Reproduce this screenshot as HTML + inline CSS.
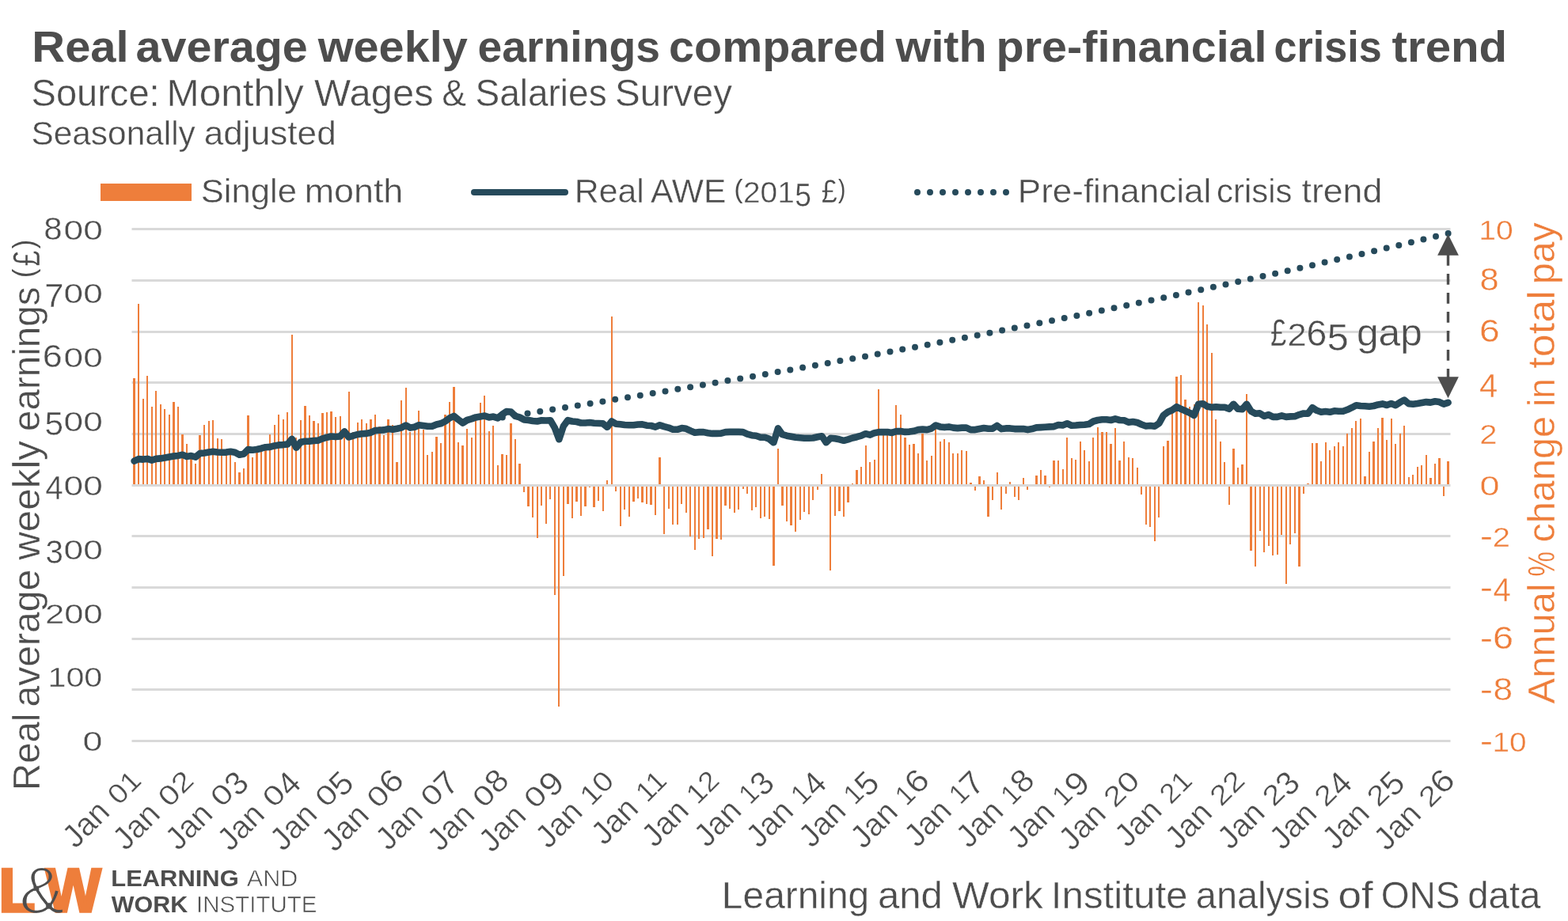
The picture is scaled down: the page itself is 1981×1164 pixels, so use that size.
<!DOCTYPE html>
<html lang="en"><head><meta charset="utf-8">
<title>Real average weekly earnings compared with pre-financial crisis trend</title>
<style>
html,body{margin:0;padding:0;background:#fff;}
body{width:1981px;height:1164px;overflow:hidden;}
svg{display:block;font-family:"Liberation Sans",Arial,Helvetica,sans-serif;}
text{white-space:pre;}
</style></head><body>
<svg width="1981" height="1164" viewBox="0 0 1981 1164">
<defs><filter id="thin" x="-10%" y="-10%" width="120%" height="120%"><feMorphology operator="erode" radius="1"/></filter></defs>
<rect width="1981" height="1164" fill="#fff"/>
<g id="headings">
<text fill="#4d4d4d" font-weight="bold"><tspan x="40.33" y="77.90" font-size="55.40" textLength="138.39" lengthAdjust="spacingAndGlyphs">Real </tspan><tspan x="171.58" y="77.90" font-size="55.40" textLength="233.05" lengthAdjust="spacingAndGlyphs">average </tspan><tspan x="401.74" y="77.90" font-size="55.40" textLength="205.09" lengthAdjust="spacingAndGlyphs">weekly </tspan><tspan x="603.52" y="77.90" font-size="55.40" textLength="245.86" lengthAdjust="spacingAndGlyphs">earnings </tspan><tspan x="845.13" y="77.90" font-size="55.40" textLength="290.57" lengthAdjust="spacingAndGlyphs">compared </tspan><tspan x="1131.64" y="77.90" font-size="55.40" textLength="131.05" lengthAdjust="spacingAndGlyphs">with </tspan><tspan x="1258.58" y="77.90" font-size="55.40" textLength="358.00" lengthAdjust="spacingAndGlyphs">pre-financial </tspan><tspan x="1609.44" y="77.90" font-size="55.40" textLength="150.71" lengthAdjust="spacingAndGlyphs">crisis </tspan><tspan x="1758.59" y="77.90" font-size="55.40" textLength="145.62" lengthAdjust="spacingAndGlyphs">trend</tspan></text>
<text fill="#4d4d4d" stroke="#fff" stroke-width="0.40"><tspan x="39.53" y="133.90" font-size="47.40" textLength="175.17" lengthAdjust="spacingAndGlyphs">Source: </tspan><tspan x="210.53" y="133.90" font-size="47.40" textLength="186.82" lengthAdjust="spacingAndGlyphs">Monthly </tspan><tspan x="397.13" y="133.90" font-size="47.40" textLength="164.07" lengthAdjust="spacingAndGlyphs">Wages </tspan><tspan x="558.19" y="133.90" font-size="47.40" textLength="43.55" lengthAdjust="spacingAndGlyphs">&amp; </tspan><tspan x="600.48" y="133.90" font-size="47.40" textLength="178.95" lengthAdjust="spacingAndGlyphs">Salaries </tspan><tspan x="777.11" y="133.90" font-size="47.40" textLength="147.76" lengthAdjust="spacingAndGlyphs">Survey</tspan></text>
<text fill="#4d4d4d" stroke="#fff" stroke-width="0.40"><tspan x="39.43" y="183.00" font-size="41.60" textLength="219.18" lengthAdjust="spacingAndGlyphs">Seasonally </tspan><tspan x="257.67" y="183.00" font-size="41.60" textLength="167.12" lengthAdjust="spacingAndGlyphs">adjusted</tspan></text>
</g>
<g id="legend">
<rect x="127" y="232" width="115" height="22" fill="#ee7e3b"/>
<line x1="599" y1="243" x2="714" y2="243" stroke="#264a5b" stroke-width="8" stroke-linecap="round"/>
<line x1="1159" y1="243" x2="1271.5" y2="243" stroke="#264a5b" stroke-width="8" stroke-linecap="round" stroke-dasharray="0 16"/>
<text fill="#4d4d4d" stroke="#fff" stroke-width="0.40"><tspan x="253.65" y="256.00" font-size="41.60" textLength="133.56" lengthAdjust="spacingAndGlyphs">Single </tspan><tspan x="384.70" y="256.00" font-size="41.60" textLength="124.63" lengthAdjust="spacingAndGlyphs">month</tspan></text>
<text fill="#4d4d4d" stroke="#fff" stroke-width="0.40"><tspan x="725.89" y="256.00" font-size="41.60" textLength="99.86" lengthAdjust="spacingAndGlyphs">Real </tspan><tspan x="822.01" y="256.00" font-size="41.60" textLength="107.36" lengthAdjust="spacingAndGlyphs">AWE </tspan><tspan x="927.52" y="249.98" font-size="33.99" textLength="10.97" lengthAdjust="spacingAndGlyphs" stroke="none">(</tspan><tspan x="938.95" y="256.00" font-size="36.05" textLength="64.86" lengthAdjust="spacingAndGlyphs">201</tspan><tspan x="1004.34" y="261.05" font-size="43.05" textLength="20.75" lengthAdjust="spacingAndGlyphs">5</tspan><tspan x="1027.78" y="256.00" font-size="41.60" textLength="30.12" lengthAdjust="spacingAndGlyphs"> £</tspan><tspan x="1059.03" y="249.98" font-size="33.99" textLength="9.34" lengthAdjust="spacingAndGlyphs" stroke="none">)</tspan></text>
<text fill="#4d4d4d" stroke="#fff" stroke-width="0.40"><tspan x="1285.79" y="256.00" font-size="41.60" textLength="256.78" lengthAdjust="spacingAndGlyphs">Pre-financial </tspan><tspan x="1537.01" y="256.00" font-size="41.60" textLength="107.02" lengthAdjust="spacingAndGlyphs">crisis </tspan><tspan x="1644.53" y="256.00" font-size="41.60" textLength="101.78" lengthAdjust="spacingAndGlyphs">trend</tspan></text>
</g>
<g id="grid" fill="#d9d9d9">
<rect x="166.5" y="288" width="1666" height="3"/>
<rect x="166.5" y="353" width="1666" height="3"/>
<rect x="166.5" y="418" width="1666" height="3"/>
<rect x="166.5" y="482" width="1666" height="3"/>
<rect x="166.5" y="547" width="1666" height="3"/>
<rect x="166.5" y="676" width="1666" height="3"/>
<rect x="166.5" y="741" width="1666" height="3"/>
<rect x="166.5" y="806" width="1666" height="3"/>
<rect x="166.5" y="870" width="1666" height="3"/>
<rect x="166.5" y="935" width="1666" height="3"/>
</g>
<g id="bars" fill="#ee7e3b" shape-rendering="crispEdges">
<rect x="168" y="478" width="3" height="135"/>
<rect x="174" y="384" width="2" height="229"/>
<rect x="180" y="504" width="2" height="109"/>
<rect x="185" y="475" width="2" height="138"/>
<rect x="191" y="514" width="2" height="99"/>
<rect x="196" y="494" width="2" height="119"/>
<rect x="202" y="511" width="2" height="102"/>
<rect x="207" y="517" width="2" height="96"/>
<rect x="213" y="524" width="2" height="89"/>
<rect x="218" y="508" width="3" height="105"/>
<rect x="224" y="514" width="2" height="99"/>
<rect x="229" y="549" width="3" height="64"/>
<rect x="235" y="561" width="2" height="52"/>
<rect x="240" y="577" width="3" height="36"/>
<rect x="246" y="586" width="2" height="27"/>
<rect x="251" y="550" width="3" height="63"/>
<rect x="257" y="537" width="2" height="76"/>
<rect x="263" y="532" width="2" height="81"/>
<rect x="268" y="531" width="2" height="82"/>
<rect x="274" y="554" width="2" height="59"/>
<rect x="279" y="555" width="2" height="58"/>
<rect x="285" y="573" width="2" height="40"/>
<rect x="290" y="572" width="2" height="41"/>
<rect x="296" y="584" width="2" height="29"/>
<rect x="301" y="597" width="3" height="16"/>
<rect x="307" y="592" width="2" height="21"/>
<rect x="312" y="525" width="3" height="88"/>
<rect x="318" y="578" width="2" height="35"/>
<rect x="323" y="569" width="3" height="44"/>
<rect x="329" y="568" width="2" height="45"/>
<rect x="334" y="566" width="3" height="47"/>
<rect x="340" y="549" width="2" height="64"/>
<rect x="346" y="537" width="2" height="76"/>
<rect x="351" y="524" width="2" height="89"/>
<rect x="357" y="530" width="2" height="83"/>
<rect x="362" y="521" width="2" height="92"/>
<rect x="368" y="423" width="2" height="190"/>
<rect x="373" y="553" width="2" height="60"/>
<rect x="379" y="531" width="2" height="82"/>
<rect x="384" y="513" width="3" height="100"/>
<rect x="390" y="525" width="2" height="88"/>
<rect x="395" y="532" width="3" height="81"/>
<rect x="401" y="535" width="2" height="78"/>
<rect x="406" y="522" width="3" height="91"/>
<rect x="412" y="521" width="2" height="92"/>
<rect x="417" y="520" width="3" height="93"/>
<rect x="423" y="527" width="2" height="86"/>
<rect x="429" y="526" width="2" height="87"/>
<rect x="434" y="546" width="2" height="67"/>
<rect x="440" y="495" width="2" height="118"/>
<rect x="445" y="546" width="2" height="67"/>
<rect x="451" y="534" width="2" height="79"/>
<rect x="456" y="530" width="2" height="83"/>
<rect x="462" y="535" width="2" height="78"/>
<rect x="467" y="530" width="3" height="83"/>
<rect x="473" y="524" width="2" height="89"/>
<rect x="478" y="539" width="3" height="74"/>
<rect x="484" y="550" width="2" height="63"/>
<rect x="489" y="530" width="3" height="83"/>
<rect x="495" y="537" width="2" height="76"/>
<rect x="500" y="584" width="3" height="29"/>
<rect x="506" y="506" width="2" height="107"/>
<rect x="512" y="490" width="2" height="123"/>
<rect x="517" y="546" width="2" height="67"/>
<rect x="523" y="541" width="2" height="72"/>
<rect x="528" y="519" width="2" height="94"/>
<rect x="534" y="543" width="2" height="70"/>
<rect x="539" y="575" width="2" height="38"/>
<rect x="545" y="571" width="2" height="42"/>
<rect x="550" y="552" width="3" height="61"/>
<rect x="556" y="560" width="2" height="53"/>
<rect x="561" y="524" width="3" height="89"/>
<rect x="567" y="508" width="2" height="105"/>
<rect x="572" y="489" width="3" height="124"/>
<rect x="578" y="559" width="2" height="54"/>
<rect x="583" y="563" width="3" height="50"/>
<rect x="589" y="542" width="2" height="71"/>
<rect x="595" y="553" width="2" height="60"/>
<rect x="600" y="528" width="2" height="85"/>
<rect x="606" y="509" width="2" height="104"/>
<rect x="611" y="500" width="2" height="113"/>
<rect x="617" y="545" width="2" height="68"/>
<rect x="622" y="538" width="2" height="75"/>
<rect x="628" y="588" width="2" height="25"/>
<rect x="633" y="574" width="3" height="39"/>
<rect x="639" y="575" width="2" height="38"/>
<rect x="644" y="535" width="3" height="78"/>
<rect x="650" y="555" width="2" height="58"/>
<rect x="655" y="586" width="3" height="27"/>
<rect x="661" y="613" width="2" height="9"/>
<rect x="666" y="613" width="3" height="27"/>
<rect x="672" y="613" width="2" height="41"/>
<rect x="678" y="613" width="2" height="67"/>
<rect x="683" y="613" width="2" height="26"/>
<rect x="689" y="613" width="2" height="49"/>
<rect x="694" y="613" width="2" height="18"/>
<rect x="700" y="613" width="2" height="139"/>
<rect x="705" y="613" width="2" height="280"/>
<rect x="711" y="613" width="2" height="115"/>
<rect x="716" y="613" width="3" height="24"/>
<rect x="722" y="613" width="2" height="42"/>
<rect x="727" y="613" width="3" height="21"/>
<rect x="733" y="613" width="2" height="39"/>
<rect x="738" y="613" width="3" height="27"/>
<rect x="744" y="613" width="2" height="3"/>
<rect x="749" y="613" width="3" height="28"/>
<rect x="755" y="613" width="2" height="20"/>
<rect x="761" y="613" width="2" height="33"/>
<rect x="766" y="607" width="2" height="6"/>
<rect x="772" y="400" width="2" height="213"/>
<rect x="777" y="613" width="2" height="8"/>
<rect x="783" y="613" width="2" height="52"/>
<rect x="788" y="613" width="2" height="31"/>
<rect x="794" y="613" width="2" height="40"/>
<rect x="799" y="613" width="3" height="21"/>
<rect x="805" y="613" width="2" height="17"/>
<rect x="810" y="613" width="3" height="22"/>
<rect x="816" y="613" width="2" height="24"/>
<rect x="821" y="613" width="3" height="25"/>
<rect x="827" y="613" width="2" height="38"/>
<rect x="832" y="578" width="3" height="35"/>
<rect x="838" y="613" width="2" height="62"/>
<rect x="844" y="613" width="2" height="30"/>
<rect x="849" y="613" width="2" height="50"/>
<rect x="855" y="613" width="2" height="50"/>
<rect x="860" y="613" width="2" height="24"/>
<rect x="866" y="613" width="2" height="35"/>
<rect x="871" y="613" width="2" height="65"/>
<rect x="877" y="613" width="2" height="82"/>
<rect x="882" y="613" width="2" height="68"/>
<rect x="888" y="613" width="2" height="67"/>
<rect x="893" y="613" width="3" height="56"/>
<rect x="899" y="613" width="2" height="90"/>
<rect x="904" y="613" width="3" height="68"/>
<rect x="910" y="613" width="2" height="69"/>
<rect x="915" y="613" width="3" height="26"/>
<rect x="921" y="613" width="2" height="30"/>
<rect x="927" y="613" width="2" height="35"/>
<rect x="932" y="613" width="2" height="31"/>
<rect x="938" y="613" width="2" height="5"/>
<rect x="943" y="613" width="2" height="11"/>
<rect x="949" y="613" width="2" height="32"/>
<rect x="954" y="613" width="2" height="28"/>
<rect x="960" y="613" width="2" height="42"/>
<rect x="965" y="613" width="2" height="40"/>
<rect x="971" y="613" width="2" height="43"/>
<rect x="976" y="613" width="3" height="102"/>
<rect x="982" y="567" width="2" height="46"/>
<rect x="987" y="613" width="3" height="26"/>
<rect x="993" y="613" width="2" height="46"/>
<rect x="998" y="613" width="3" height="51"/>
<rect x="1004" y="613" width="2" height="59"/>
<rect x="1010" y="613" width="2" height="44"/>
<rect x="1015" y="613" width="2" height="34"/>
<rect x="1021" y="613" width="2" height="37"/>
<rect x="1026" y="613" width="2" height="19"/>
<rect x="1032" y="613" width="2" height="6"/>
<rect x="1037" y="599" width="2" height="14"/>
<rect x="1048" y="613" width="2" height="108"/>
<rect x="1054" y="613" width="2" height="39"/>
<rect x="1059" y="613" width="3" height="33"/>
<rect x="1065" y="613" width="2" height="40"/>
<rect x="1070" y="613" width="3" height="22"/>
<rect x="1076" y="611" width="2" height="2"/>
<rect x="1081" y="594" width="3" height="19"/>
<rect x="1087" y="590" width="2" height="23"/>
<rect x="1093" y="563" width="2" height="50"/>
<rect x="1098" y="584" width="2" height="29"/>
<rect x="1104" y="581" width="2" height="32"/>
<rect x="1109" y="492" width="2" height="121"/>
<rect x="1115" y="547" width="2" height="66"/>
<rect x="1120" y="547" width="2" height="66"/>
<rect x="1126" y="548" width="2" height="65"/>
<rect x="1131" y="512" width="2" height="101"/>
<rect x="1137" y="524" width="2" height="89"/>
<rect x="1142" y="553" width="3" height="60"/>
<rect x="1148" y="562" width="2" height="51"/>
<rect x="1153" y="561" width="3" height="52"/>
<rect x="1159" y="573" width="2" height="40"/>
<rect x="1164" y="548" width="3" height="65"/>
<rect x="1170" y="582" width="2" height="31"/>
<rect x="1176" y="576" width="2" height="37"/>
<rect x="1181" y="539" width="2" height="74"/>
<rect x="1187" y="558" width="2" height="55"/>
<rect x="1192" y="555" width="2" height="58"/>
<rect x="1198" y="559" width="2" height="54"/>
<rect x="1203" y="573" width="2" height="40"/>
<rect x="1209" y="573" width="2" height="40"/>
<rect x="1214" y="569" width="2" height="44"/>
<rect x="1220" y="570" width="2" height="43"/>
<rect x="1225" y="610" width="3" height="3"/>
<rect x="1231" y="613" width="2" height="7"/>
<rect x="1236" y="602" width="3" height="11"/>
<rect x="1242" y="607" width="2" height="6"/>
<rect x="1247" y="613" width="3" height="40"/>
<rect x="1253" y="613" width="2" height="19"/>
<rect x="1259" y="597" width="2" height="16"/>
<rect x="1264" y="613" width="2" height="31"/>
<rect x="1270" y="613" width="2" height="11"/>
<rect x="1275" y="609" width="2" height="4"/>
<rect x="1281" y="613" width="2" height="15"/>
<rect x="1286" y="613" width="2" height="19"/>
<rect x="1292" y="604" width="2" height="9"/>
<rect x="1297" y="613" width="2" height="6"/>
<rect x="1308" y="601" width="3" height="12"/>
<rect x="1314" y="594" width="2" height="19"/>
<rect x="1319" y="601" width="3" height="12"/>
<rect x="1325" y="613" width="2" height="3"/>
<rect x="1330" y="582" width="3" height="31"/>
<rect x="1336" y="582" width="2" height="31"/>
<rect x="1342" y="593" width="2" height="20"/>
<rect x="1347" y="553" width="2" height="60"/>
<rect x="1353" y="579" width="2" height="34"/>
<rect x="1358" y="581" width="2" height="32"/>
<rect x="1364" y="558" width="2" height="55"/>
<rect x="1369" y="569" width="2" height="44"/>
<rect x="1375" y="583" width="2" height="30"/>
<rect x="1380" y="553" width="2" height="60"/>
<rect x="1386" y="540" width="2" height="73"/>
<rect x="1391" y="546" width="3" height="67"/>
<rect x="1397" y="546" width="2" height="67"/>
<rect x="1402" y="561" width="3" height="52"/>
<rect x="1408" y="541" width="2" height="72"/>
<rect x="1413" y="582" width="3" height="31"/>
<rect x="1419" y="558" width="2" height="55"/>
<rect x="1425" y="578" width="2" height="35"/>
<rect x="1430" y="579" width="2" height="34"/>
<rect x="1436" y="591" width="2" height="22"/>
<rect x="1441" y="613" width="2" height="12"/>
<rect x="1447" y="613" width="2" height="50"/>
<rect x="1452" y="613" width="2" height="53"/>
<rect x="1458" y="613" width="2" height="71"/>
<rect x="1463" y="613" width="2" height="41"/>
<rect x="1469" y="564" width="2" height="49"/>
<rect x="1474" y="557" width="3" height="56"/>
<rect x="1480" y="519" width="2" height="94"/>
<rect x="1485" y="476" width="3" height="137"/>
<rect x="1491" y="474" width="2" height="139"/>
<rect x="1496" y="505" width="3" height="108"/>
<rect x="1502" y="514" width="2" height="99"/>
<rect x="1508" y="511" width="2" height="102"/>
<rect x="1513" y="382" width="2" height="231"/>
<rect x="1519" y="386" width="2" height="227"/>
<rect x="1524" y="410" width="2" height="203"/>
<rect x="1530" y="446" width="2" height="167"/>
<rect x="1535" y="530" width="2" height="83"/>
<rect x="1541" y="558" width="2" height="55"/>
<rect x="1546" y="584" width="2" height="29"/>
<rect x="1552" y="613" width="2" height="25"/>
<rect x="1557" y="567" width="3" height="46"/>
<rect x="1563" y="591" width="2" height="22"/>
<rect x="1568" y="587" width="3" height="26"/>
<rect x="1574" y="498" width="2" height="115"/>
<rect x="1579" y="613" width="3" height="83"/>
<rect x="1585" y="613" width="2" height="103"/>
<rect x="1591" y="613" width="2" height="58"/>
<rect x="1596" y="613" width="2" height="85"/>
<rect x="1602" y="613" width="2" height="77"/>
<rect x="1607" y="613" width="2" height="89"/>
<rect x="1613" y="613" width="2" height="88"/>
<rect x="1618" y="613" width="2" height="63"/>
<rect x="1624" y="613" width="2" height="125"/>
<rect x="1629" y="613" width="2" height="75"/>
<rect x="1635" y="613" width="2" height="61"/>
<rect x="1640" y="613" width="3" height="103"/>
<rect x="1646" y="613" width="2" height="11"/>
<rect x="1651" y="611" width="3" height="2"/>
<rect x="1657" y="560" width="2" height="53"/>
<rect x="1662" y="560" width="3" height="53"/>
<rect x="1668" y="583" width="2" height="30"/>
<rect x="1674" y="559" width="2" height="54"/>
<rect x="1679" y="569" width="2" height="44"/>
<rect x="1685" y="564" width="2" height="49"/>
<rect x="1690" y="559" width="2" height="54"/>
<rect x="1696" y="564" width="2" height="49"/>
<rect x="1701" y="548" width="2" height="65"/>
<rect x="1707" y="541" width="2" height="72"/>
<rect x="1712" y="532" width="2" height="81"/>
<rect x="1718" y="529" width="2" height="84"/>
<rect x="1723" y="602" width="3" height="11"/>
<rect x="1729" y="571" width="2" height="42"/>
<rect x="1734" y="558" width="3" height="55"/>
<rect x="1740" y="541" width="2" height="72"/>
<rect x="1745" y="528" width="3" height="85"/>
<rect x="1751" y="556" width="2" height="57"/>
<rect x="1757" y="529" width="2" height="84"/>
<rect x="1762" y="561" width="2" height="52"/>
<rect x="1768" y="548" width="2" height="65"/>
<rect x="1773" y="538" width="2" height="75"/>
<rect x="1779" y="603" width="2" height="10"/>
<rect x="1784" y="600" width="2" height="13"/>
<rect x="1790" y="590" width="2" height="23"/>
<rect x="1795" y="588" width="2" height="25"/>
<rect x="1801" y="575" width="2" height="38"/>
<rect x="1806" y="604" width="3" height="9"/>
<rect x="1812" y="586" width="2" height="27"/>
<rect x="1817" y="579" width="3" height="34"/>
<rect x="1823" y="613" width="2" height="14"/>
<rect x="1828" y="583" width="3" height="30"/>
</g>
<rect id="zero" x="166.5" y="612" width="1666" height="3" fill="#d9d9d9"/>
<g id="trend" fill="#264a5b">
<circle cx="634.8" cy="527.4" r="4"/><circle cx="650.6" cy="524.9" r="4"/><circle cx="666.5" cy="522.5" r="4"/><circle cx="682.3" cy="520.0" r="4"/><circle cx="698.1" cy="517.5" r="4"/><circle cx="714.0" cy="515.0" r="4"/><circle cx="729.8" cy="512.5" r="4"/><circle cx="745.6" cy="509.9" r="4"/><circle cx="761.4" cy="507.4" r="4"/><circle cx="777.2" cy="504.8" r="4"/><circle cx="793.0" cy="502.3" r="4"/><circle cx="808.8" cy="499.7" r="4"/><circle cx="824.7" cy="497.1" r="4"/><circle cx="840.5" cy="494.4" r="4"/><circle cx="856.3" cy="491.8" r="4"/><circle cx="872.1" cy="489.2" r="4"/><circle cx="887.9" cy="486.5" r="4"/><circle cx="903.6" cy="483.8" r="4"/><circle cx="919.4" cy="481.1" r="4"/><circle cx="935.2" cy="478.4" r="4"/><circle cx="951.0" cy="475.7" r="4"/><circle cx="966.8" cy="472.9" r="4"/><circle cx="982.6" cy="470.1" r="4"/><circle cx="998.3" cy="467.4" r="4"/><circle cx="1014.1" cy="464.6" r="4"/><circle cx="1029.9" cy="461.8" r="4"/><circle cx="1045.7" cy="458.9" r="4"/><circle cx="1061.4" cy="456.1" r="4"/><circle cx="1077.2" cy="453.2" r="4"/><circle cx="1093.0" cy="450.4" r="4"/><circle cx="1108.7" cy="447.5" r="4"/><circle cx="1124.5" cy="444.6" r="4"/><circle cx="1140.2" cy="441.6" r="4"/><circle cx="1156.0" cy="438.7" r="4"/><circle cx="1171.7" cy="435.7" r="4"/><circle cx="1187.4" cy="432.8" r="4"/><circle cx="1203.2" cy="429.8" r="4"/><circle cx="1218.9" cy="426.8" r="4"/><circle cx="1234.7" cy="423.7" r="4"/><circle cx="1250.4" cy="420.7" r="4"/><circle cx="1266.1" cy="417.6" r="4"/><circle cx="1281.8" cy="414.5" r="4"/><circle cx="1297.5" cy="411.4" r="4"/><circle cx="1313.3" cy="408.3" r="4"/><circle cx="1329.0" cy="405.2" r="4"/><circle cx="1344.7" cy="402.1" r="4"/><circle cx="1360.4" cy="398.9" r="4"/><circle cx="1376.1" cy="395.7" r="4"/><circle cx="1391.8" cy="392.5" r="4"/><circle cx="1407.5" cy="389.3" r="4"/><circle cx="1423.2" cy="386.0" r="4"/><circle cx="1438.8" cy="382.8" r="4"/><circle cx="1454.5" cy="379.5" r="4"/><circle cx="1470.2" cy="376.2" r="4"/><circle cx="1485.9" cy="372.9" r="4"/><circle cx="1501.5" cy="369.5" r="4"/><circle cx="1517.2" cy="366.2" r="4"/><circle cx="1532.9" cy="362.8" r="4"/><circle cx="1548.5" cy="359.4" r="4"/><circle cx="1564.2" cy="356.0" r="4"/><circle cx="1579.8" cy="352.6" r="4"/><circle cx="1595.5" cy="349.1" r="4"/><circle cx="1611.1" cy="345.7" r="4"/><circle cx="1626.7" cy="342.2" r="4"/><circle cx="1642.4" cy="338.7" r="4"/><circle cx="1658.0" cy="335.2" r="4"/><circle cx="1673.6" cy="331.6" r="4"/><circle cx="1689.2" cy="328.0" r="4"/><circle cx="1704.9" cy="324.5" r="4"/><circle cx="1720.5" cy="320.9" r="4"/><circle cx="1736.1" cy="317.2" r="4"/><circle cx="1751.7" cy="313.6" r="4"/><circle cx="1767.3" cy="309.9" r="4"/><circle cx="1782.9" cy="306.2" r="4"/><circle cx="1798.4" cy="302.5" r="4"/><circle cx="1814.0" cy="298.8" r="4"/><circle cx="1829.6" cy="295.0" r="4"/>
</g>
<polyline id="awe" points="169.6,582.6 175.1,580.1 180.7,580.6 186.2,579.9 191.7,581.6 197.3,579.9 202.8,579.4 208.3,578.6 213.9,577.6 219.4,576.6 224.9,575.9 230.5,574.8 236.0,576.9 241.5,576.1 247.1,577.6 252.6,573.0 258.1,572.5 263.7,571.5 269.2,570.8 274.7,571.5 280.3,571.7 285.8,571.6 291.3,570.8 296.9,571.8 302.4,574.8 307.9,573.8 313.5,568.0 319.0,568.7 324.5,568.0 330.1,566.7 335.6,565.2 341.1,564.9 346.7,563.4 352.2,562.4 357.7,562.1 363.3,561.4 368.8,554.8 374.3,565.7 379.9,558.8 385.4,557.8 390.9,557.6 396.5,557.0 402.0,556.6 407.5,554.3 413.1,552.7 418.6,551.5 424.1,552.0 429.7,551.5 435.2,545.4 440.7,552.5 446.3,550.7 451.8,549.0 457.3,548.2 462.9,547.9 468.4,546.7 473.9,544.1 479.5,543.8 485.0,543.4 490.5,542.1 496.1,542.8 501.6,541.8 507.1,540.6 512.7,537.5 518.2,540.6 523.7,539.8 529.3,537.3 534.8,538.0 540.3,538.8 545.9,538.8 551.4,536.5 556.9,535.3 562.5,532.5 568.0,528.4 573.5,525.9 579.1,530.4 584.6,534.5 590.1,531.0 595.7,529.4 601.2,527.4 606.7,526.4 612.3,525.6 617.8,527.4 623.3,526.6 628.9,528.4 634.4,523.9 639.9,520.1 645.5,520.5 651.0,525.9 656.5,527.4 662.1,530.4 667.6,531.0 673.1,532.0 678.7,532.5 684.2,531.2 689.7,531.5 695.3,531.2 700.8,540.6 706.3,555.3 711.9,538.5 717.4,531.2 722.9,532.5 728.5,533.0 734.0,534.5 739.5,534.5 745.1,534.0 750.6,534.7 756.1,535.0 761.7,535.3 767.2,539.8 772.7,532.5 778.3,535.7 783.8,536.3 789.3,537.0 794.9,537.3 800.4,537.3 805.9,536.5 811.5,536.3 817.0,537.7 822.5,538.0 828.1,539.6 833.6,537.3 839.1,539.1 844.7,540.6 850.2,542.8 855.7,542.8 861.3,541.1 866.8,541.8 872.3,544.4 877.8,546.7 883.4,546.1 888.9,546.1 894.4,547.2 900.0,547.9 905.5,547.9 911.0,547.7 916.6,546.1 922.1,545.9 927.6,545.9 933.2,545.9 938.7,546.1 944.2,548.7 949.8,550.2 955.3,550.7 960.8,552.7 966.4,552.7 971.9,554.8 977.4,559.3 983.0,541.4 988.5,549.2 994.0,550.7 999.6,551.7 1005.1,552.7 1010.6,553.2 1016.2,553.8 1021.7,553.8 1027.2,553.5 1032.8,552.2 1038.3,551.2 1043.8,559.3 1049.4,553.8 1054.9,554.3 1060.4,555.3 1066.0,556.8 1071.5,555.3 1077.0,553.5 1082.6,552.2 1088.1,550.7 1093.6,548.2 1099.2,549.7 1104.7,547.2 1110.2,546.1 1115.8,546.1 1121.3,546.1 1126.8,546.9 1132.4,545.1 1137.9,545.1 1143.4,545.9 1149.0,545.6 1154.5,544.8 1160.0,543.1 1165.6,542.6 1171.1,543.1 1176.6,541.6 1182.2,537.5 1187.7,539.4 1193.2,540.1 1198.8,539.4 1204.3,540.6 1209.8,541.1 1215.4,540.6 1220.9,540.6 1226.4,543.1 1232.0,543.1 1237.5,542.1 1243.0,541.1 1248.6,541.8 1254.1,541.6 1259.6,538.0 1265.2,542.1 1270.7,541.4 1276.2,541.4 1281.8,542.1 1287.3,542.1 1292.8,542.1 1298.4,543.1 1303.9,542.1 1309.4,540.4 1315.0,540.1 1320.5,539.8 1326.0,539.4 1331.6,539.1 1337.1,537.0 1342.6,537.5 1348.2,535.3 1353.7,537.7 1359.2,537.5 1364.8,537.0 1370.3,536.8 1375.8,536.0 1381.4,532.5 1386.9,531.0 1392.4,530.2 1398.0,530.2 1403.5,531.0 1409.0,529.4 1414.6,531.0 1420.1,531.2 1425.6,533.7 1431.2,533.0 1436.7,534.0 1442.2,536.5 1447.8,538.5 1453.3,538.0 1458.8,538.8 1464.4,535.0 1469.9,524.9 1475.4,520.8 1481.0,518.3 1486.5,514.2 1492.0,516.8 1497.6,519.3 1503.1,521.8 1508.6,524.9 1514.2,510.7 1519.7,510.2 1525.2,513.7 1530.8,514.7 1536.3,514.2 1541.8,514.7 1547.4,514.7 1552.9,516.8 1558.4,510.7 1564.0,516.8 1569.5,517.3 1575.0,510.7 1580.6,519.8 1586.1,522.8 1591.6,522.3 1597.2,525.9 1602.7,524.1 1608.2,526.9 1613.8,526.9 1619.3,525.4 1624.8,526.9 1630.4,526.4 1635.9,526.2 1641.4,524.1 1647.0,522.5 1652.5,522.8 1658.0,515.2 1663.6,518.8 1669.1,520.8 1674.6,520.1 1680.2,520.8 1685.7,519.3 1691.2,519.8 1696.8,519.8 1702.3,517.8 1707.8,515.2 1713.4,512.2 1718.9,513.0 1724.4,513.2 1730.0,513.7 1735.5,513.0 1741.0,511.4 1746.6,510.4 1752.1,512.0 1757.6,510.0 1763.2,512.2 1768.7,508.6 1774.2,505.6 1779.8,510.2 1785.3,510.7 1790.8,510.0 1796.4,509.1 1801.9,508.1 1807.4,508.6 1813.0,507.3 1818.5,508.1 1824.0,510.7 1829.6,508.9" fill="none" stroke="#264a5b" stroke-width="8.6" stroke-linejoin="round" stroke-linecap="round"/>
<g id="gap">
<line x1="1829.5" y1="322" x2="1829.5" y2="477" stroke="#4d4d4d" stroke-width="3.4" stroke-dasharray="13.7 10.3"/>
<polygon points="1829.5,296 1816.1,322.7 1842.9,322.7" fill="#4d4d4d"/>
<polygon points="1829.5,503.2 1816.1,476.3 1842.9,476.3" fill="#4d4d4d"/>
<text fill="#4d4d4d" stroke="#fff" stroke-width="0.40"><tspan x="1605.06" y="437.00" font-size="47.40" textLength="20.28" lengthAdjust="spacingAndGlyphs">£</tspan><tspan x="1626.58" y="437.00" font-size="40.25" textLength="24.20" lengthAdjust="spacingAndGlyphs">2</tspan><tspan x="1650.41" y="437.00" font-size="46.46" textLength="25.84" lengthAdjust="spacingAndGlyphs">6</tspan><tspan x="1676.63" y="442.63" font-size="48.07" textLength="27.08" lengthAdjust="spacingAndGlyphs">5</tspan><tspan x="1700.16" y="437.00" font-size="47.40" textLength="96.61" lengthAdjust="spacingAndGlyphs"> gap</tspan></text>
</g>
<g id="yleft">
<text fill="#4d4d4d" stroke="#fff" stroke-width="0.40" transform="rotate(-90)"><tspan x="-999.09" y="49.80" font-size="47.40" textLength="110.65" lengthAdjust="spacingAndGlyphs">Real </tspan><tspan x="-893.52" y="49.80" font-size="47.40" textLength="187.27" lengthAdjust="spacingAndGlyphs">average </tspan><tspan x="-707.88" y="49.80" font-size="47.40" textLength="164.64" lengthAdjust="spacingAndGlyphs">weekly </tspan><tspan x="-544.94" y="49.80" font-size="47.40" textLength="195.57" lengthAdjust="spacingAndGlyphs">earnings </tspan><tspan x="-350.97" y="43.08" font-size="37.95" textLength="11.33" lengthAdjust="spacingAndGlyphs" stroke="none">(</tspan><tspan x="-336.62" y="49.80" font-size="47.40" textLength="19.84" lengthAdjust="spacingAndGlyphs">£</tspan><tspan x="-314.33" y="43.08" font-size="37.95" textLength="11.27" lengthAdjust="spacingAndGlyphs" stroke="none">)</tspan></text>
<text fill="#4d4d4d" stroke="#fff" stroke-width="0.40"><tspan x="55.33" y="302.50" font-size="40.40" textLength="23.40" lengthAdjust="spacingAndGlyphs">8</tspan><tspan x="80.54" y="302.50" font-size="35.00" textLength="49.21" lengthAdjust="spacingAndGlyphs">00</tspan></text>
<text fill="#4d4d4d" stroke="#fff" stroke-width="0.40"><tspan x="56.15" y="388.25" font-size="41.80" textLength="24.25" lengthAdjust="spacingAndGlyphs">7</tspan><tspan x="80.54" y="383.35" font-size="35.00" textLength="49.21" lengthAdjust="spacingAndGlyphs">00</tspan></text>
<text fill="#4d4d4d" stroke="#fff" stroke-width="0.40"><tspan x="53.89" y="464.20" font-size="40.40" textLength="24.96" lengthAdjust="spacingAndGlyphs">6</tspan><tspan x="80.54" y="464.20" font-size="35.00" textLength="49.21" lengthAdjust="spacingAndGlyphs">00</tspan></text>
<text fill="#4d4d4d" stroke="#fff" stroke-width="0.40"><tspan x="56.51" y="549.95" font-size="41.80" textLength="23.58" lengthAdjust="spacingAndGlyphs">5</tspan><tspan x="80.54" y="545.05" font-size="35.00" textLength="49.21" lengthAdjust="spacingAndGlyphs">00</tspan></text>
<text fill="#4d4d4d" stroke="#fff" stroke-width="0.40"><tspan x="57.18" y="630.80" font-size="41.80" textLength="22.52" lengthAdjust="spacingAndGlyphs">4</tspan><tspan x="80.54" y="625.90" font-size="35.00" textLength="49.21" lengthAdjust="spacingAndGlyphs">00</tspan></text>
<text fill="#4d4d4d" stroke="#fff" stroke-width="0.40"><tspan x="57.62" y="711.65" font-size="41.80" textLength="22.40" lengthAdjust="spacingAndGlyphs">3</tspan><tspan x="80.54" y="706.75" font-size="35.00" textLength="49.21" lengthAdjust="spacingAndGlyphs">00</tspan></text>
<text fill="#4d4d4d" stroke="#fff" stroke-width="0.40"><tspan x="57.08" y="787.60" font-size="35.00" textLength="72.80" lengthAdjust="spacingAndGlyphs">200</tspan></text>
<text fill="#4d4d4d" stroke="#fff" stroke-width="0.40"><tspan x="60.43" y="868.45" font-size="35.00" textLength="68.88" lengthAdjust="spacingAndGlyphs">100</tspan></text>
<text fill="#4d4d4d" stroke="#fff" stroke-width="0.40"><tspan x="104.41" y="949.30" font-size="35.00" textLength="25.00" lengthAdjust="spacingAndGlyphs">0</tspan></text>
</g>
<g id="yright">
<text fill="#ee7e3b" stroke="#fff" stroke-width="0.40" transform="rotate(-90)"><tspan x="-889.42" y="1964.00" font-size="47.40" textLength="165.63" lengthAdjust="spacingAndGlyphs">Annual </tspan><tspan x="-728.81" y="1964.00" font-size="47.40" textLength="41.88" lengthAdjust="spacingAndGlyphs">% </tspan><tspan x="-685.60" y="1964.00" font-size="47.40" textLength="173.32" lengthAdjust="spacingAndGlyphs">change </tspan><tspan x="-514.10" y="1964.00" font-size="47.40" textLength="48.64" lengthAdjust="spacingAndGlyphs">in </tspan><tspan x="-465.69" y="1964.00" font-size="47.40" textLength="113.16" lengthAdjust="spacingAndGlyphs">total </tspan><tspan x="-359.16" y="1964.00" font-size="47.40" textLength="78.03" lengthAdjust="spacingAndGlyphs">pay</tspan></text>
<text fill="#ee7e3b" stroke="#fff" stroke-width="0.40"><tspan x="1868.22" y="302.60" font-size="35.00" textLength="43.53" lengthAdjust="spacingAndGlyphs">10</tspan></text>
<text fill="#ee7e3b" stroke="#fff" stroke-width="0.40"><tspan x="1869.55" y="367.30" font-size="40.40" textLength="24.23" lengthAdjust="spacingAndGlyphs">8</tspan></text>
<text fill="#ee7e3b" stroke="#fff" stroke-width="0.40"><tspan x="1869.13" y="432.00" font-size="40.40" textLength="25.69" lengthAdjust="spacingAndGlyphs">6</tspan></text>
<text fill="#ee7e3b" stroke="#fff" stroke-width="0.40"><tspan x="1869.05" y="501.60" font-size="41.80" textLength="23.25" lengthAdjust="spacingAndGlyphs">4</tspan></text>
<text fill="#ee7e3b" stroke="#fff" stroke-width="0.40"><tspan x="1869.18" y="561.40" font-size="35.00" textLength="22.25" lengthAdjust="spacingAndGlyphs">2</tspan></text>
<text fill="#ee7e3b" stroke="#fff" stroke-width="0.40"><tspan x="1869.40" y="626.10" font-size="35.00" textLength="25.12" lengthAdjust="spacingAndGlyphs">0</tspan></text>
<text fill="#ee7e3b" stroke="#fff" stroke-width="0.40"><tspan x="1869.79" y="690.80" font-size="40.50" textLength="16.42" lengthAdjust="spacingAndGlyphs">-</tspan><tspan x="1885.88" y="690.80" font-size="35.00" textLength="22.25" lengthAdjust="spacingAndGlyphs">2</tspan></text>
<text fill="#ee7e3b" stroke="#fff" stroke-width="0.40"><tspan x="1869.79" y="755.50" font-size="40.50" textLength="16.42" lengthAdjust="spacingAndGlyphs">-</tspan><tspan x="1886.58" y="760.40" font-size="41.80" textLength="22.41" lengthAdjust="spacingAndGlyphs">4</tspan></text>
<text fill="#ee7e3b" stroke="#fff" stroke-width="0.40"><tspan x="1869.79" y="820.20" font-size="40.50" textLength="16.42" lengthAdjust="spacingAndGlyphs">-</tspan><tspan x="1886.00" y="820.20" font-size="40.40" textLength="26.05" lengthAdjust="spacingAndGlyphs">6</tspan></text>
<text fill="#ee7e3b" stroke="#fff" stroke-width="0.40"><tspan x="1869.79" y="884.90" font-size="40.50" textLength="16.42" lengthAdjust="spacingAndGlyphs">-</tspan><tspan x="1886.43" y="884.90" font-size="40.40" textLength="24.59" lengthAdjust="spacingAndGlyphs">8</tspan></text>
<text fill="#ee7e3b" stroke="#fff" stroke-width="0.40"><tspan x="1869.79" y="949.60" font-size="40.50" textLength="16.42" lengthAdjust="spacingAndGlyphs">-</tspan><tspan x="1885.45" y="949.60" font-size="35.00" textLength="43.08" lengthAdjust="spacingAndGlyphs">10</tspan></text>
</g>
<g id="xaxis">
<text fill="#4d4d4d" stroke="#fff" stroke-width="0.40" transform="translate(179.10 989.90) rotate(-45)"><tspan x="-118.37" y="0.00" font-size="40.50" textLength="75.03" lengthAdjust="spacingAndGlyphs">Jan </tspan><tspan x="-40.63" y="0.00" font-size="35.00" textLength="42.46" lengthAdjust="spacingAndGlyphs">01</tspan></text>
<text fill="#4d4d4d" stroke="#fff" stroke-width="0.40" transform="translate(245.49 989.90) rotate(-45)"><tspan x="-122.17" y="0.00" font-size="40.50" textLength="75.03" lengthAdjust="spacingAndGlyphs">Jan </tspan><tspan x="-44.57" y="0.00" font-size="35.00" textLength="46.65" lengthAdjust="spacingAndGlyphs">02</tspan></text>
<text fill="#4d4d4d" stroke="#fff" stroke-width="0.40" transform="translate(311.89 989.90) rotate(-45)"><tspan x="-122.17" y="0.00" font-size="40.50" textLength="75.03" lengthAdjust="spacingAndGlyphs">Jan </tspan><tspan x="-44.63" y="0.00" font-size="35.00" textLength="24.06" lengthAdjust="spacingAndGlyphs">0</tspan><tspan x="-20.58" y="4.90" font-size="41.80" textLength="22.40" lengthAdjust="spacingAndGlyphs">3</tspan></text>
<text fill="#4d4d4d" stroke="#fff" stroke-width="0.40" transform="translate(378.29 989.90) rotate(-45)"><tspan x="-123.17" y="0.00" font-size="40.50" textLength="75.03" lengthAdjust="spacingAndGlyphs">Jan </tspan><tspan x="-45.63" y="0.00" font-size="35.00" textLength="24.06" lengthAdjust="spacingAndGlyphs">0</tspan><tspan x="-21.32" y="4.90" font-size="41.80" textLength="22.52" lengthAdjust="spacingAndGlyphs">4</tspan></text>
<text fill="#4d4d4d" stroke="#fff" stroke-width="0.40" transform="translate(444.69 989.90) rotate(-45)"><tspan x="-123.07" y="0.00" font-size="40.50" textLength="75.03" lengthAdjust="spacingAndGlyphs">Jan </tspan><tspan x="-45.53" y="0.00" font-size="35.00" textLength="24.06" lengthAdjust="spacingAndGlyphs">0</tspan><tspan x="-21.69" y="4.90" font-size="41.80" textLength="23.58" lengthAdjust="spacingAndGlyphs">5</tspan></text>
<text fill="#4d4d4d" stroke="#fff" stroke-width="0.40" transform="translate(511.09 989.90) rotate(-45)"><tspan x="-124.57" y="0.00" font-size="40.50" textLength="75.03" lengthAdjust="spacingAndGlyphs">Jan </tspan><tspan x="-47.03" y="0.00" font-size="35.00" textLength="24.06" lengthAdjust="spacingAndGlyphs">0</tspan><tspan x="-22.91" y="0.00" font-size="40.40" textLength="24.96" lengthAdjust="spacingAndGlyphs">6</tspan></text>
<text fill="#4d4d4d" stroke="#fff" stroke-width="0.40" transform="translate(577.49 989.90) rotate(-45)"><tspan x="-122.27" y="0.00" font-size="40.50" textLength="75.03" lengthAdjust="spacingAndGlyphs">Jan </tspan><tspan x="-44.73" y="0.00" font-size="35.00" textLength="24.06" lengthAdjust="spacingAndGlyphs">0</tspan><tspan x="-22.05" y="4.90" font-size="41.80" textLength="24.25" lengthAdjust="spacingAndGlyphs">7</tspan></text>
<text fill="#4d4d4d" stroke="#fff" stroke-width="0.40" transform="translate(643.89 989.90) rotate(-45)"><tspan x="-123.57" y="0.00" font-size="40.50" textLength="75.03" lengthAdjust="spacingAndGlyphs">Jan </tspan><tspan x="-46.03" y="0.00" font-size="35.00" textLength="24.06" lengthAdjust="spacingAndGlyphs">0</tspan><tspan x="-21.47" y="0.00" font-size="40.40" textLength="23.40" lengthAdjust="spacingAndGlyphs">8</tspan></text>
<text fill="#4d4d4d" stroke="#fff" stroke-width="0.40" transform="translate(710.29 989.90) rotate(-45)"><tspan x="-125.57" y="0.00" font-size="40.50" textLength="75.03" lengthAdjust="spacingAndGlyphs">Jan </tspan><tspan x="-48.03" y="0.00" font-size="35.00" textLength="24.06" lengthAdjust="spacingAndGlyphs">0</tspan><tspan x="-22.76" y="4.90" font-size="41.80" textLength="24.90" lengthAdjust="spacingAndGlyphs">9</tspan></text>
<text fill="#4d4d4d" stroke="#fff" stroke-width="0.40" transform="translate(776.69 989.90) rotate(-45)"><tspan x="-118.52" y="0.00" font-size="40.50" textLength="75.03" lengthAdjust="spacingAndGlyphs">Jan </tspan><tspan x="-42.15" y="0.00" font-size="35.00" textLength="43.69" lengthAdjust="spacingAndGlyphs">10</tspan></text>
<text fill="#4d4d4d" stroke="#fff" stroke-width="0.40" transform="translate(843.08 989.90) rotate(-45)"><tspan x="-112.62" y="0.00" font-size="40.50" textLength="75.03" lengthAdjust="spacingAndGlyphs">Jan </tspan><tspan x="-36.04" y="0.00" font-size="35.00" textLength="37.97" lengthAdjust="spacingAndGlyphs">11</tspan></text>
<text fill="#4d4d4d" stroke="#fff" stroke-width="0.40" transform="translate(909.48 989.90) rotate(-45)"><tspan x="-116.42" y="0.00" font-size="40.50" textLength="75.03" lengthAdjust="spacingAndGlyphs">Jan </tspan><tspan x="-39.92" y="0.00" font-size="35.00" textLength="41.77" lengthAdjust="spacingAndGlyphs">12</tspan></text>
<text fill="#4d4d4d" stroke="#fff" stroke-width="0.40" transform="translate(975.88 989.90) rotate(-45)"><tspan x="-116.42" y="0.00" font-size="40.50" textLength="75.03" lengthAdjust="spacingAndGlyphs">Jan </tspan><tspan x="-39.65" y="0.00" font-size="35.00" textLength="18.87" lengthAdjust="spacingAndGlyphs">1</tspan><tspan x="-20.58" y="4.90" font-size="41.80" textLength="22.40" lengthAdjust="spacingAndGlyphs">3</tspan></text>
<text fill="#4d4d4d" stroke="#fff" stroke-width="0.40" transform="translate(1042.28 989.90) rotate(-45)"><tspan x="-117.42" y="0.00" font-size="40.50" textLength="75.03" lengthAdjust="spacingAndGlyphs">Jan </tspan><tspan x="-40.65" y="0.00" font-size="35.00" textLength="18.87" lengthAdjust="spacingAndGlyphs">1</tspan><tspan x="-21.32" y="4.90" font-size="41.80" textLength="22.52" lengthAdjust="spacingAndGlyphs">4</tspan></text>
<text fill="#4d4d4d" stroke="#fff" stroke-width="0.40" transform="translate(1108.68 989.90) rotate(-45)"><tspan x="-117.32" y="0.00" font-size="40.50" textLength="75.03" lengthAdjust="spacingAndGlyphs">Jan </tspan><tspan x="-40.55" y="0.00" font-size="35.00" textLength="18.87" lengthAdjust="spacingAndGlyphs">1</tspan><tspan x="-21.69" y="4.90" font-size="41.80" textLength="23.58" lengthAdjust="spacingAndGlyphs">5</tspan></text>
<text fill="#4d4d4d" stroke="#fff" stroke-width="0.40" transform="translate(1175.08 989.90) rotate(-45)"><tspan x="-118.82" y="0.00" font-size="40.50" textLength="75.03" lengthAdjust="spacingAndGlyphs">Jan </tspan><tspan x="-42.05" y="0.00" font-size="35.00" textLength="18.87" lengthAdjust="spacingAndGlyphs">1</tspan><tspan x="-22.91" y="0.00" font-size="40.40" textLength="24.96" lengthAdjust="spacingAndGlyphs">6</tspan></text>
<text fill="#4d4d4d" stroke="#fff" stroke-width="0.40" transform="translate(1241.48 989.90) rotate(-45)"><tspan x="-116.52" y="0.00" font-size="40.50" textLength="75.03" lengthAdjust="spacingAndGlyphs">Jan </tspan><tspan x="-39.75" y="0.00" font-size="35.00" textLength="18.87" lengthAdjust="spacingAndGlyphs">1</tspan><tspan x="-22.05" y="4.90" font-size="41.80" textLength="24.25" lengthAdjust="spacingAndGlyphs">7</tspan></text>
<text fill="#4d4d4d" stroke="#fff" stroke-width="0.40" transform="translate(1307.88 989.90) rotate(-45)"><tspan x="-117.82" y="0.00" font-size="40.50" textLength="75.03" lengthAdjust="spacingAndGlyphs">Jan </tspan><tspan x="-41.05" y="0.00" font-size="35.00" textLength="18.87" lengthAdjust="spacingAndGlyphs">1</tspan><tspan x="-21.47" y="0.00" font-size="40.40" textLength="23.40" lengthAdjust="spacingAndGlyphs">8</tspan></text>
<text fill="#4d4d4d" stroke="#fff" stroke-width="0.40" transform="translate(1374.27 989.90) rotate(-45)"><tspan x="-119.82" y="0.00" font-size="40.50" textLength="75.03" lengthAdjust="spacingAndGlyphs">Jan </tspan><tspan x="-43.05" y="0.00" font-size="35.00" textLength="18.87" lengthAdjust="spacingAndGlyphs">1</tspan><tspan x="-22.76" y="4.90" font-size="41.80" textLength="24.90" lengthAdjust="spacingAndGlyphs">9</tspan></text>
<text fill="#4d4d4d" stroke="#fff" stroke-width="0.40" transform="translate(1440.67 989.90) rotate(-45)"><tspan x="-122.32" y="0.00" font-size="40.50" textLength="75.03" lengthAdjust="spacingAndGlyphs">Jan </tspan><tspan x="-45.61" y="0.00" font-size="35.00" textLength="47.26" lengthAdjust="spacingAndGlyphs">20</tspan></text>
<text fill="#4d4d4d" stroke="#fff" stroke-width="0.40" transform="translate(1507.07 989.90) rotate(-45)"><tspan x="-116.42" y="0.00" font-size="40.50" textLength="75.03" lengthAdjust="spacingAndGlyphs">Jan </tspan><tspan x="-39.42" y="0.00" font-size="35.00" textLength="41.19" lengthAdjust="spacingAndGlyphs">21</tspan></text>
<text fill="#4d4d4d" stroke="#fff" stroke-width="0.40" transform="translate(1573.47 989.90) rotate(-45)"><tspan x="-120.22" y="0.00" font-size="40.50" textLength="75.03" lengthAdjust="spacingAndGlyphs">Jan </tspan><tspan x="-43.42" y="0.00" font-size="35.00" textLength="45.42" lengthAdjust="spacingAndGlyphs">22</tspan></text>
<text fill="#4d4d4d" stroke="#fff" stroke-width="0.40" transform="translate(1639.87 989.90) rotate(-45)"><tspan x="-120.22" y="0.00" font-size="40.50" textLength="75.03" lengthAdjust="spacingAndGlyphs">Jan </tspan><tspan x="-43.46" y="0.00" font-size="35.00" textLength="23.11" lengthAdjust="spacingAndGlyphs">2</tspan><tspan x="-20.58" y="4.90" font-size="41.80" textLength="22.40" lengthAdjust="spacingAndGlyphs">3</tspan></text>
<text fill="#4d4d4d" stroke="#fff" stroke-width="0.40" transform="translate(1706.27 989.90) rotate(-45)"><tspan x="-121.22" y="0.00" font-size="40.50" textLength="75.03" lengthAdjust="spacingAndGlyphs">Jan </tspan><tspan x="-44.46" y="0.00" font-size="35.00" textLength="23.11" lengthAdjust="spacingAndGlyphs">2</tspan><tspan x="-21.32" y="4.90" font-size="41.80" textLength="22.52" lengthAdjust="spacingAndGlyphs">4</tspan></text>
<text fill="#4d4d4d" stroke="#fff" stroke-width="0.40" transform="translate(1772.67 989.90) rotate(-45)"><tspan x="-121.12" y="0.00" font-size="40.50" textLength="75.03" lengthAdjust="spacingAndGlyphs">Jan </tspan><tspan x="-44.36" y="0.00" font-size="35.00" textLength="23.11" lengthAdjust="spacingAndGlyphs">2</tspan><tspan x="-21.69" y="4.90" font-size="41.80" textLength="23.58" lengthAdjust="spacingAndGlyphs">5</tspan></text>
<text fill="#4d4d4d" stroke="#fff" stroke-width="0.40" transform="translate(1839.07 989.90) rotate(-45)"><tspan x="-122.62" y="0.00" font-size="40.50" textLength="75.03" lengthAdjust="spacingAndGlyphs">Jan </tspan><tspan x="-45.86" y="0.00" font-size="35.00" textLength="23.11" lengthAdjust="spacingAndGlyphs">2</tspan><tspan x="-22.91" y="0.00" font-size="40.40" textLength="24.96" lengthAdjust="spacingAndGlyphs">6</tspan></text>
</g>
<g id="logo">
<text transform="translate(-1.45 1152.15) scale(0.954 1)" font-size="78.70" font-weight="bold" fill="#ee7e3b" stroke="#ee7e3b" stroke-width="3.50" stroke-linejoin="miter">L</text>
<text transform="translate(57.70 1152.15) scale(0.940 1)" font-size="78.70" font-weight="bold" fill="#ee7e3b" stroke="#ee7e3b" stroke-width="3.50" stroke-linejoin="miter">W</text>
<text transform="translate(24.5 1153.6) scale(1.02 1)" font-size="83.3" fill="#4d4d4d" filter="url(#thin)">&amp;</text>
<text fill="#4d4d4d" stroke="#fff" stroke-width="0.60"><tspan x="140.33" y="1119.50" font-size="28.60" textLength="161.35" lengthAdjust="spacingAndGlyphs" font-weight="bold" stroke="none">LEARNING</tspan><tspan x="305.04" y="1119.50" font-size="28.60" textLength="71.38" lengthAdjust="spacingAndGlyphs"> AND</tspan></text>
<text fill="#4d4d4d" stroke="#fff" stroke-width="0.60"><tspan x="140.81" y="1152.80" font-size="28.60" textLength="96.37" lengthAdjust="spacingAndGlyphs" font-weight="bold" stroke="none">WORK</tspan><tspan x="239.80" y="1152.80" font-size="28.60" textLength="160.70" lengthAdjust="spacingAndGlyphs"> INSTITUTE</tspan></text>
</g>
<text fill="#4d4d4d" stroke="#fff" stroke-width="0.40"><tspan x="911.87" y="1147.80" font-size="47.40" textLength="199.71" lengthAdjust="spacingAndGlyphs">Learning </tspan><tspan x="1109.05" y="1147.80" font-size="47.40" textLength="95.48" lengthAdjust="spacingAndGlyphs">and </tspan><tspan x="1203.12" y="1147.80" font-size="47.40" textLength="128.50" lengthAdjust="spacingAndGlyphs">Work </tspan><tspan x="1327.84" y="1147.80" font-size="47.40" textLength="186.44" lengthAdjust="spacingAndGlyphs">Institute </tspan><tspan x="1510.86" y="1147.80" font-size="47.40" textLength="182.26" lengthAdjust="spacingAndGlyphs">analysis </tspan><tspan x="1690.53" y="1147.80" font-size="47.40" textLength="59.20" lengthAdjust="spacingAndGlyphs">of </tspan><tspan x="1744.67" y="1147.80" font-size="47.40" textLength="112.79" lengthAdjust="spacingAndGlyphs">ONS </tspan><tspan x="1854.20" y="1147.80" font-size="47.40" textLength="92.25" lengthAdjust="spacingAndGlyphs">data</tspan></text>
</svg>
</body></html>
